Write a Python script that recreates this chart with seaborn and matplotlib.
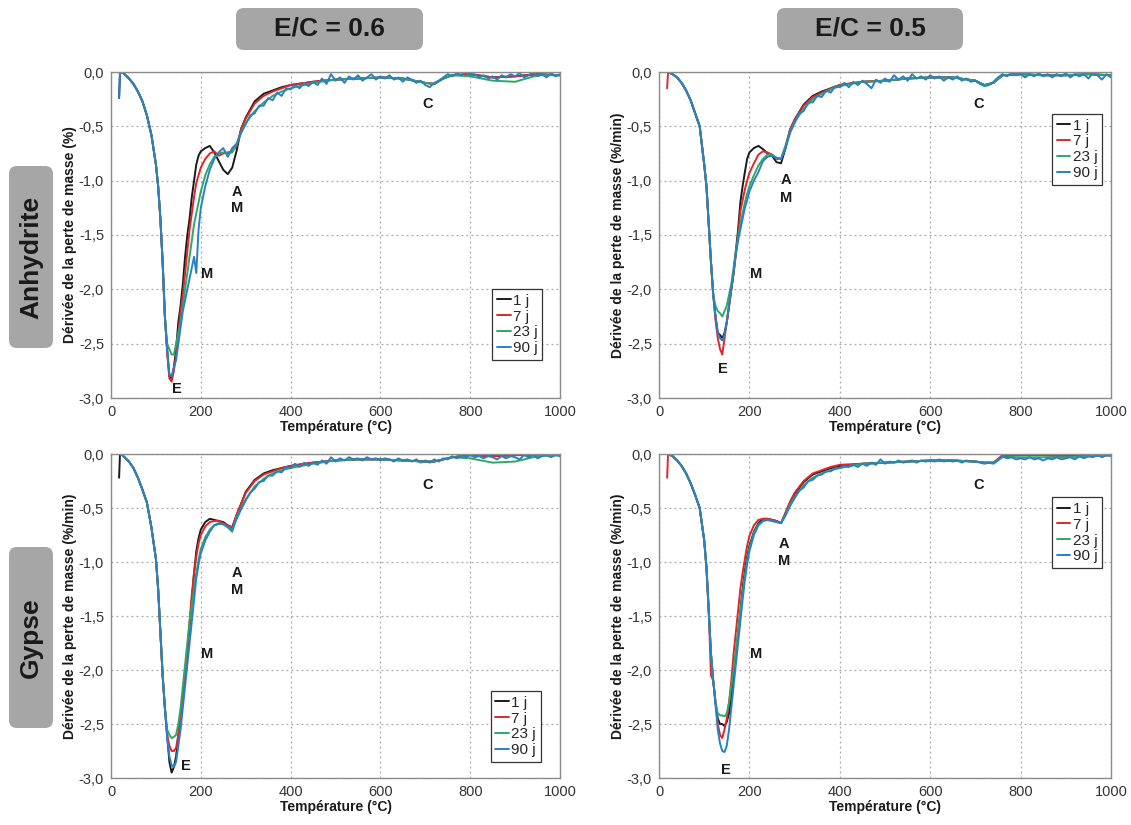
# coding:utf-8
# Courbes DTG (dérivée de la perte de masse) - anhydrite / gypse, E/C = 0.6 et 0.5

import numpy as np
import pandas as pd
import matplotlib
matplotlib.use("Agg")
import matplotlib.pyplot as plt
from matplotlib.patches import FancyBboxPatch
from matplotlib.ticker import FuncFormatter
import seaborn as sns

sns.set_style("white")
plt.rcParams['font.family'] = ['Liberation Sans', 'DejaVu Sans']

W, H = 1131, 825

durees = ["1 j", "7 j", "23 j", "90 j"]
couleurs = ["#1a1a1a", "#e0262a", "#2fa866", "#2a80c4"]

# grille de température commune (°C)
T = [18, 20, 25, 30, 40, 50, 60, 70, 80, 90,
     100, 105, 110, 115, 120, 125, 130, 135, 140, 145,
     150, 155, 160, 165, 170, 175, 180, 185, 190, 195,
     200, 210, 220, 230, 240, 250, 260, 270, 280, 290,
     300, 320, 340, 360, 380, 400, 450, 500, 550, 600,
     650, 700, 720, 740, 760, 800, 850, 900, 950, 1000]
# grille plus fine pour la partie bruitée de la courbe 90 j
T_bruit = list(range(300, 1001, 10))

# ---- Anhydrite, E/C = 0.6
anh06_1j = [-0.24, -0.01, 0.0, -0.02, -0.06, -0.11, -0.18, -0.27, -0.40, -0.58,
            -0.85, -1.05, -1.35, -1.75, -2.25, -2.55, -2.80, -2.82, -2.72, -2.55,
            -2.30, -2.15, -1.95, -1.70, -1.50, -1.35, -1.15, -1.00, -0.85, -0.77,
            -0.73, -0.70, -0.68, -0.74, -0.82, -0.90, -0.94, -0.88, -0.72, -0.52,
            -0.42, -0.27, -0.20, -0.17, -0.14, -0.12, -0.09, -0.07, -0.06, -0.05,
            -0.06, -0.10, -0.11, -0.06, -0.03, -0.02, -0.05, -0.04, -0.02, -0.03]
anh06_7j = [0.0, -0.01, 0.0, -0.02, -0.06, -0.11, -0.18, -0.27, -0.40, -0.58,
            -0.85, -1.05, -1.35, -1.75, -2.25, -2.58, -2.82, -2.85, -2.75, -2.60,
            -2.40, -2.20, -2.05, -1.85, -1.65, -1.45, -1.30, -1.15, -1.02, -0.95,
            -0.88, -0.80, -0.75, -0.73, -0.77, -0.75, -0.74, -0.73, -0.68, -0.52,
            -0.43, -0.29, -0.22, -0.18, -0.15, -0.12, -0.09, -0.07, -0.06, -0.05,
            -0.06, -0.10, -0.11, -0.06, -0.03, -0.02, -0.05, -0.04, -0.02, -0.03]
anh06_23j = [0.0, -0.01, 0.0, -0.02, -0.06, -0.11, -0.18, -0.27, -0.40, -0.58,
             -0.85, -1.05, -1.35, -1.75, -2.25, -2.50, -2.55, -2.60, -2.60, -2.50,
             -2.40, -2.30, -2.15, -2.00, -1.85, -1.70, -1.55, -1.40, -1.30, -1.20,
             -1.10, -0.95, -0.85, -0.78, -0.75, -0.74, -0.75, -0.74, -0.66, -0.55,
             -0.47, -0.36, -0.28, -0.22, -0.18, -0.15, -0.10, -0.07, -0.06, -0.05,
             -0.06, -0.10, -0.11, -0.06, -0.03, -0.04, -0.08, -0.09, -0.03, -0.03]
anh06_90j = [-0.24, -0.01, 0.0, -0.02, -0.06, -0.11, -0.18, -0.27, -0.40, -0.58,
             -0.85, -1.05, -1.35, -1.75, -2.25, -2.55, -2.78, -2.80, -2.72, -2.65,
             -2.50, -2.35, -2.20, -2.10, -2.00, -1.90, -1.80, -1.70, -1.85, -1.45,
             -1.25, -1.05, -0.90, -0.80, -0.74, -0.70, -0.78, -0.70, -0.66, -0.56]
anh06_90j_bruit = [-0.48, -0.40, -0.38, -0.31, -0.31, -0.24, -0.26, -0.19, -0.22, -0.15,
                   -0.16, -0.12, -0.15, -0.10, -0.13, -0.09, -0.12, -0.06, -0.11, -0.02,
                   -0.08, -0.05, -0.10, -0.04, -0.07, -0.03, -0.08, -0.05, -0.02, -0.07,
                   -0.04, -0.06, -0.03, -0.07, -0.05, -0.09, -0.05, -0.07, -0.10, -0.08,
                   -0.12, -0.14, -0.10, -0.08, -0.05, -0.02, -0.04, -0.01, -0.03, 0.0,
                   -0.03, -0.02, -0.05, -0.03, -0.06, -0.04, -0.07, -0.03, -0.05, -0.02,
                   -0.04, -0.01, -0.05, -0.03, 0.0, -0.04, -0.02, -0.05, -0.01, -0.04, -0.02]

# ---- Anhydrite, E/C = 0.5
anh05_1j = [0.0, 0.0, -0.01, -0.02, -0.05, -0.10, -0.17, -0.26, -0.38, -0.50,
            -0.85, -1.05, -1.40, -1.75, -2.05, -2.25, -2.40, -2.42, -2.45, -2.40,
            -2.30, -2.15, -2.00, -1.85, -1.65, -1.45, -1.20, -1.05, -0.92, -0.80,
            -0.74, -0.70, -0.68, -0.71, -0.75, -0.77, -0.83, -0.84, -0.70, -0.53,
            -0.44, -0.30, -0.22, -0.18, -0.15, -0.12, -0.09, -0.08, -0.06, -0.05,
            -0.05, -0.08, -0.12, -0.10, -0.03, -0.02, -0.03, -0.03, -0.02, -0.03]
anh05_7j = [-0.15, 0.0, -0.01, -0.02, -0.05, -0.10, -0.17, -0.26, -0.38, -0.50,
            -0.85, -1.05, -1.40, -1.75, -2.05, -2.28, -2.45, -2.55, -2.60, -2.45,
            -2.30, -2.15, -2.00, -1.85, -1.68, -1.50, -1.28, -1.18, -1.08, -1.00,
            -0.93, -0.84, -0.76, -0.73, -0.74, -0.76, -0.80, -0.80, -0.68, -0.53,
            -0.44, -0.31, -0.23, -0.19, -0.15, -0.12, -0.09, -0.08, -0.06, -0.05,
            -0.05, -0.08, -0.12, -0.10, -0.03, -0.02, -0.03, -0.03, -0.02, -0.03]
anh05_23j = [0.0, 0.0, -0.01, -0.02, -0.05, -0.10, -0.17, -0.26, -0.38, -0.50,
             -0.85, -1.05, -1.40, -1.75, -2.05, -2.15, -2.20, -2.22, -2.25, -2.20,
             -2.15, -2.05, -1.95, -1.80, -1.65, -1.52, -1.40, -1.30, -1.20, -1.12,
             -1.05, -0.95, -0.86, -0.80, -0.76, -0.76, -0.79, -0.80, -0.68, -0.55,
             -0.46, -0.34, -0.25, -0.20, -0.16, -0.13, -0.09, -0.08, -0.06, -0.05,
             -0.05, -0.08, -0.12, -0.10, -0.03, -0.02, -0.03, -0.03, -0.02, -0.03]
anh05_90j = [0.0, 0.0, -0.01, -0.02, -0.05, -0.10, -0.17, -0.26, -0.38, -0.50,
             -0.85, -1.05, -1.40, -1.75, -2.05, -2.25, -2.40, -2.45, -2.47, -2.42,
             -2.30, -2.15, -2.00, -1.85, -1.68, -1.55, -1.45, -1.35, -1.25, -1.18,
             -1.10, -1.00, -0.92, -0.82, -0.78, -0.77, -0.79, -0.80, -0.70, -0.56]
anh05_90j_bruit = [-0.47, -0.38, -0.36, -0.28, -0.28, -0.22, -0.23, -0.17, -0.19, -0.13,
                   -0.14, -0.10, -0.14, -0.09, -0.12, -0.08, -0.11, -0.15, -0.07, -0.10,
                   -0.06, -0.09, -0.03, -0.07, -0.04, -0.08, -0.02, -0.06, -0.04, -0.07,
                   -0.03, -0.06, -0.04, -0.08, -0.05, -0.07, -0.04, -0.08, -0.06, -0.09,
                   -0.08, -0.11, -0.13, -0.12, -0.09, -0.05, -0.02, -0.04, -0.01, -0.03,
                   -0.02, -0.05, -0.02, -0.04, -0.01, -0.04, -0.02, -0.05, -0.02, -0.04,
                   -0.01, -0.05, -0.02, -0.04, -0.02, -0.06, -0.01, -0.03, -0.07, -0.02, -0.05]

# ---- Gypse, E/C = 0.6
gyp06_1j = [-0.22, 0.0, -0.01, -0.03, -0.07, -0.13, -0.22, -0.33, -0.45, -0.68,
            -0.97, -1.25, -1.65, -2.05, -2.35, -2.60, -2.85, -2.95, -2.90, -2.80,
            -2.60, -2.45, -2.25, -2.05, -1.85, -1.60, -1.35, -1.10, -0.90, -0.78,
            -0.70, -0.63, -0.60, -0.61, -0.62, -0.63, -0.66, -0.68, -0.56, -0.46,
            -0.35, -0.24, -0.18, -0.15, -0.13, -0.11, -0.08, -0.06, -0.05, -0.05,
            -0.06, -0.07, -0.07, -0.05, -0.03, -0.01, -0.02, -0.01, -0.01, -0.01]
gyp06_7j = [0.0, 0.0, -0.01, -0.03, -0.07, -0.13, -0.22, -0.33, -0.45, -0.68,
            -0.97, -1.25, -1.65, -2.05, -2.35, -2.60, -2.70, -2.75, -2.75, -2.72,
            -2.60, -2.45, -2.25, -2.05, -1.80, -1.55, -1.30, -1.10, -0.95, -0.83,
            -0.75, -0.67, -0.63, -0.62, -0.62, -0.64, -0.66, -0.68, -0.56, -0.46,
            -0.36, -0.25, -0.19, -0.16, -0.13, -0.11, -0.08, -0.06, -0.05, -0.05,
            -0.06, -0.07, -0.07, -0.05, -0.03, -0.01, -0.02, -0.01, -0.01, -0.01]
gyp06_23j = [0.0, 0.0, -0.01, -0.03, -0.07, -0.13, -0.22, -0.33, -0.45, -0.68,
             -0.97, -1.25, -1.65, -2.05, -2.35, -2.55, -2.60, -2.63, -2.62, -2.60,
             -2.50, -2.35, -2.15, -1.95, -1.75, -1.55, -1.40, -1.25, -1.10, -0.98,
             -0.88, -0.77, -0.70, -0.66, -0.65, -0.65, -0.68, -0.72, -0.58, -0.50,
             -0.42, -0.30, -0.23, -0.18, -0.15, -0.13, -0.09, -0.06, -0.05, -0.05,
             -0.06, -0.07, -0.07, -0.05, -0.03, -0.04, -0.08, -0.07, -0.02, -0.01]
gyp06_90j = [0.0, 0.0, -0.01, -0.03, -0.07, -0.13, -0.22, -0.33, -0.45, -0.68,
             -0.97, -1.25, -1.65, -2.05, -2.35, -2.62, -2.80, -2.88, -2.90, -2.85,
             -2.70, -2.55, -2.35, -2.15, -1.95, -1.75, -1.55, -1.35, -1.15, -1.02,
             -0.92, -0.80, -0.72, -0.66, -0.64, -0.65, -0.67, -0.70, -0.60, -0.51]
gyp06_90j_bruit = [-0.43, -0.36, -0.32, -0.26, -0.25, -0.20, -0.20, -0.16, -0.17, -0.12,
                   -0.13, -0.09, -0.12, -0.08, -0.11, -0.08, -0.10, -0.06, -0.09, -0.03,
                   -0.07, -0.04, -0.06, -0.03, -0.05, -0.04, -0.06, -0.03, -0.05, -0.04,
                   -0.06, -0.04, -0.05, -0.07, -0.04, -0.06, -0.05, -0.07, -0.05, -0.08,
                   -0.06, -0.08, -0.05, -0.07, -0.04, -0.05, -0.02, -0.04, -0.02, -0.03,
                   -0.01, -0.03, -0.02, -0.04, -0.02, -0.03, -0.05, -0.02, -0.04, -0.02,
                   -0.03, -0.05, -0.01, -0.03, -0.01, -0.04, -0.02, -0.01, -0.03, -0.01, -0.02]

# ---- Gypse, E/C = 0.5
gyp05_1j = [0.0, 0.0, -0.01, -0.02, -0.06, -0.11, -0.18, -0.27, -0.38, -0.50,
            -0.80, -1.05, -1.45, -1.85, -2.10, -2.30, -2.45, -2.50, -2.50, -2.52,
            -2.48, -2.40, -2.25, -2.05, -1.85, -1.65, -1.45, -1.25, -1.08, -0.95,
            -0.85, -0.72, -0.64, -0.60, -0.60, -0.61, -0.62, -0.64, -0.55, -0.45,
            -0.37, -0.26, -0.19, -0.16, -0.13, -0.11, -0.09, -0.08, -0.07, -0.06,
            -0.06, -0.07, -0.08, -0.08, -0.02, -0.01, -0.01, -0.02, -0.02, -0.01]
gyp05_7j = [-0.22, 0.0, -0.01, -0.02, -0.06, -0.11, -0.18, -0.27, -0.38, -0.50,
            -0.80, -1.05, -1.45, -2.05, -2.10, -2.30, -2.50, -2.60, -2.63, -2.55,
            -2.45, -2.30, -2.10, -1.85, -1.65, -1.45, -1.25, -1.10, -0.97, -0.85,
            -0.76, -0.66, -0.61, -0.60, -0.60, -0.61, -0.62, -0.64, -0.54, -0.44,
            -0.36, -0.25, -0.18, -0.15, -0.12, -0.10, -0.09, -0.08, -0.07, -0.06,
            -0.06, -0.07, -0.08, -0.08, -0.01, -0.01, -0.01, -0.02, -0.02, -0.01]
gyp05_23j = [0.0, 0.0, -0.01, -0.02, -0.06, -0.11, -0.18, -0.27, -0.38, -0.50,
             -0.80, -1.05, -1.45, -1.85, -2.10, -2.30, -2.40, -2.42, -2.42, -2.43,
             -2.40, -2.30, -2.15, -2.00, -1.82, -1.65, -1.45, -1.28, -1.12, -0.98,
             -0.87, -0.73, -0.65, -0.62, -0.61, -0.62, -0.63, -0.64, -0.56, -0.47,
             -0.40, -0.29, -0.22, -0.18, -0.15, -0.13, -0.09, -0.08, -0.07, -0.06,
             -0.06, -0.07, -0.08, -0.08, -0.03, -0.03, -0.03, -0.03, -0.02, -0.01]
gyp05_90j = [0.0, 0.0, -0.01, -0.02, -0.06, -0.11, -0.18, -0.27, -0.38, -0.50,
             -0.80, -1.05, -1.45, -1.85, -2.10, -2.32, -2.55, -2.68, -2.75, -2.76,
             -2.70, -2.55, -2.35, -2.15, -1.95, -1.75, -1.55, -1.35, -1.17, -1.02,
             -0.90, -0.75, -0.66, -0.62, -0.61, -0.62, -0.63, -0.64, -0.57, -0.48]
gyp05_90j_bruit = [-0.41, -0.34, -0.31, -0.25, -0.24, -0.20, -0.19, -0.16, -0.16, -0.13,
                   -0.13, -0.11, -0.12, -0.10, -0.12, -0.09, -0.11, -0.08, -0.10, -0.05,
                   -0.09, -0.07, -0.08, -0.06, -0.08, -0.07, -0.06, -0.08, -0.06, -0.07,
                   -0.06, -0.07, -0.05, -0.07, -0.06, -0.07, -0.06, -0.08, -0.06, -0.07,
                   -0.07, -0.08, -0.09, -0.08, -0.09, -0.06, -0.02, -0.04, -0.03, -0.05,
                   -0.04, -0.05, -0.03, -0.05, -0.04, -0.06, -0.04, -0.05, -0.03, -0.05,
                   -0.04, -0.03, -0.05, -0.02, -0.04, -0.02, -0.03, -0.01, -0.03, -0.01, -0.02]

# annotations (lettre, T, valeur)
notes_anh06 = [("E", 147, -2.92), ("M", 214, -1.86), ("A", 280, -1.10), ("M", 280, -1.25), ("C", 706, -0.29)]
notes_anh05 = [("E", 141, -2.73), ("M", 215, -1.86), ("A", 281, -0.99), ("M", 281, -1.16), ("C", 708, -0.29)]
notes_gyp06 = [("E", 167, -2.89), ("M", 214, -1.85), ("A", 280, -1.10), ("M", 280, -1.26), ("C", 706, -0.29)]
notes_gyp05 = [("E", 149, -2.93), ("M", 215, -1.85), ("A", 277, -0.83), ("M", 277, -0.99), ("C", 708, -0.29)]


def virgule(v, pos):
    return "{:.1f}".format(v).replace(".", ",")


def trace_panneau(ax, courbes, bleu_bruit, ylabel, notes, leg_loc, leg_ancre):
    morceaux = []
    for nom, y in zip(durees, courbes):
        if nom == "90 j":
            x = T[:len(y)] + T_bruit
            y = y + bleu_bruit
        else:
            x = T
        morceaux.append(pd.DataFrame({"T": x, "d": y, "serie": nom}))
    df = pd.concat(morceaux, ignore_index=True)

    sns.lineplot(data=df, x="T", y="d", hue="serie", hue_order=durees, palette=couleurs,
                 estimator=None, sort=False, lw=1.4, legend=False, ax=ax)

    ax.set_xlim(0, 1000)
    ax.set_ylim(-3, 0)
    ax.set_xticks([0, 200, 400, 600, 800, 1000])
    ax.set_yticks([-3.0, -2.5, -2.0, -1.5, -1.0, -0.5, 0.0])
    ax.yaxis.set_major_formatter(FuncFormatter(virgule))
    ax.grid(True, ls=(0, (1.5, 2.5)), color="#a8a8a8", lw=0.9)
    for sp in ax.spines.values():
        sp.set_color("#8c8c8c")
        sp.set_linewidth(1.0)
    ax.tick_params(length=0, labelsize=10.5, colors="#333333", pad=5)
    ax.set_xlabel("Température (°C)", fontsize=10, fontweight="bold", labelpad=1, color="#1a1a1a")
    ax.set_ylabel(ylabel, fontsize=10, fontweight="bold", labelpad=1, color="#1a1a1a")

    for lettre, x, y in notes:
        ax.text(x, y, lettre, ha="center", va="center", fontsize=10.5, fontweight="bold", color="#1a1a1a")

    leg = ax.legend(ax.get_lines()[:4], durees, loc=leg_loc, bbox_to_anchor=leg_ancre,
                    frameon=True, fancybox=False, edgecolor="#333333", framealpha=1,
                    fontsize=11, handlelength=0.9, handletextpad=0.15, borderpad=0.3,
                    labelspacing=0.12, borderaxespad=0)
    leg.get_frame().set_linewidth(0.9)


def cartouche(fig, x0, y0, x1, y1, texte, rot):
    p = FancyBboxPatch((x0 / W, 1 - y1 / H), (x1 - x0) / W, (y1 - y0) / H,
                       boxstyle="round,pad=0,rounding_size=0.007", mutation_aspect=W / H,
                       transform=fig.transFigure, fc="#a6a6a6", ec="none")
    fig.add_artist(p)
    fig.text((x0 + x1) / 2 / W, 1 - (y0 + y1) / 2 / H, texte, ha="center", va="center",
             rotation=rot, fontsize=19, fontweight="bold", color="#1a1a1a")


fig = plt.figure(figsize=(W / 100, H / 100), dpi=100)
fig.patch.set_facecolor("white")


def cadre(x0, y0, x1, y1):
    return fig.add_axes([x0 / W, 1 - y1 / H, (x1 - x0) / W, (y1 - y0) / H])


ax_hg = cadre(111, 72, 560, 398)
ax_hd = cadre(659, 72, 1111, 398)
ax_bg = cadre(111, 454, 560, 778)
ax_bd = cadre(659, 454, 1111, 778)

trace_panneau(ax_hg, [anh06_1j, anh06_7j, anh06_23j, anh06_90j], anh06_90j_bruit,
              "Dérivée de la perte de masse (%)", notes_anh06, "lower right", (0.96, 0.117))
trace_panneau(ax_hd, [anh05_1j, anh05_7j, anh05_23j, anh05_90j], anh05_90j_bruit,
              "Dérivée de la perte de masse (%/min)", notes_anh05, "upper right", (0.98, 0.871))
trace_panneau(ax_bg, [gyp06_1j, gyp06_7j, gyp06_23j, gyp06_90j], gyp06_90j_bruit,
              "Dérivée de la perte de masse (%/min)", notes_gyp06, "lower right", (0.957, 0.05))
trace_panneau(ax_bd, [gyp05_1j, gyp05_7j, gyp05_23j, gyp05_90j], gyp05_90j_bruit,
              "Dérivée de la perte de masse (%/min)", notes_gyp05, "upper right", (0.98, 0.866))

cartouche(fig, 236, 8, 423, 50, "E/C = 0.6", 0)
cartouche(fig, 777, 8, 963, 50, "E/C = 0.5", 0)
cartouche(fig, 9, 166, 53, 348, "Anhydrite", 90)
cartouche(fig, 9, 547, 53, 728, "Gypse", 90)

plt.savefig("out.png", dpi=100)
plt.close()
